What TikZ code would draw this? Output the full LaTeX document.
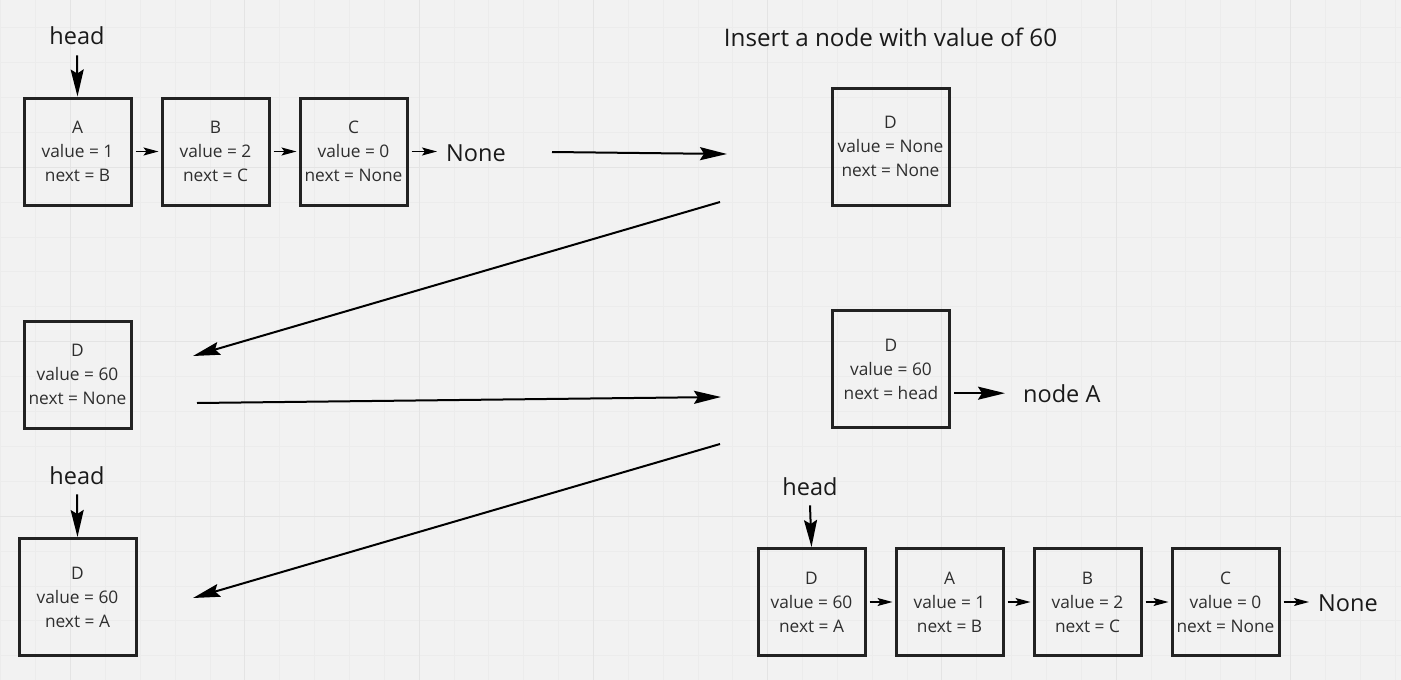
\documentclass[tikz,border=0pt]{standalone}
\usepackage{fontspec}
\newfontfamily\osfont{Open Sans}
\usetikzlibrary{arrows.meta}
\definecolor{bgcol}{HTML}{F2F2F2}
\definecolor{minorcol}{HTML}{ECECEC}
\definecolor{majorcol}{HTML}{E4E4E4}
\definecolor{boxcol}{HTML}{222222}
\definecolor{txtcol}{HTML}{2E2E2E}
\definecolor{lblcol}{HTML}{1A1A1A}
\tikzset{
  gridminor/.style={draw=minorcol, line width=0.6pt},
  gridmajor/.style={draw=majorcol, line width=1pt},
  listbox/.style={draw=boxcol, line width=3pt, minimum width=107pt, minimum height=107pt,
    inner sep=0pt, align=center, text=txtcol, font=\osfont\fontsize{17.3}{24}\selectfont},
  bigbox/.style={listbox, minimum width=117pt, minimum height=117pt},
  lbl/.style={inner sep=0pt, text=lblcol, font=\osfont\fontsize{23.5}{28}\selectfont},
  bigarrow/.style={draw=black, line width=2pt, -{Stealth[length=27pt, width=13pt, inset=4pt]}},
  smallarrow/.style={draw=black, line width=1.3pt, -{Stealth[length=15pt, width=8pt, inset=3pt]}}
}
\begin{document}
\begin{tikzpicture}[x=1pt,y=-1pt]
\useasboundingbox (0,0) rectangle (1401,680);
\fill[bgcol] (0,0) rectangle (1401,680);
% grid
\foreach \i in {-2,...,38} {\draw[gridminor] ({70.5+34.85*\i},0) -- ({70.5+34.85*\i},680);}
\foreach \j in {-4,...,14} {\draw[gridminor] (0,{167+34.9*\j}) -- (1401,{167+34.9*\j});}
\foreach \i in {0,...,7} {\draw[gridmajor] ({70.5+174.25*\i},0) -- ({70.5+174.25*\i},680);}
\foreach \j in {0,...,2} {\draw[gridmajor] (0,{167+174.5*\j}) -- (1401,{167+174.5*\j});}

% ---- top-left list
\node[listbox] (A1) at (77.5,151.5) {A\\value = 1\\next = B};
\node[listbox] (B1) at (215.5,151.5) {B\\value = 2\\next = C};
\node[listbox] (C1) at (353.5,151.5) {C\\value = 0\\next = None};
\node[lbl, anchor=base] (head1) at (77,45) {head};
\node[lbl, anchor=base west] (none1) at (446,161) {None};
\draw[bigarrow] ([yshift=-10pt]head1.south) -- (A1.north);
\draw[smallarrow, shorten <=3pt, shorten >=2pt] (A1.east) -- (B1.west);
\draw[smallarrow, shorten <=3pt, shorten >=2pt] (B1.east) -- (C1.west);
\draw[smallarrow, shorten <=3pt, shorten >=9pt] (C1.east) -- (C1.east -| none1.west);

% ---- title and new node
\node[lbl, anchor=base, font=\osfont\fontsize{24.2}{28}\selectfont] (title) at (890.5,46) {Insert a node with value of 60};
\node[bigbox] (D1) at (890.5,146.5) {D\\value = None\\next = None};

% ---- middle
\node[listbox] (D2) at (77.5,374.5) {D\\value = 60\\next = None};
\node[bigbox] (D3) at (891,369) {D\\value = 60\\next = head};
\node[lbl, anchor=base west] (nodeA) at (1023,402) {node A};
\draw[bigarrow, shorten <=3pt, shorten >=18pt] (D3.east |- nodeA.west) -- (nodeA.west);

% ---- bottom-left
\node[bigbox] (D4) at (77.5,597) {D\\value = 60\\next = A};
\node[lbl, anchor=base] (head2) at (77,484) {head};
\draw[bigarrow] ([yshift=-10pt]head2.south) -- (D4.north);

% ---- bottom-right list
\node[listbox] (D5) at (811.5,602) {D\\value = 60\\next = A};
\node[listbox] (A5) at (949.5,602) {A\\value = 1\\next = B};
\node[listbox] (B5) at (1087.5,602) {B\\value = 2\\next = C};
\node[listbox] (C5) at (1225.5,602) {C\\value = 0\\next = None};
\node[lbl, anchor=base] (head3) at (810,495) {head};
\node[lbl, anchor=base west] (none5) at (1318,611) {None};
\draw[bigarrow] ([yshift=-10pt]head3.south) -- (D5.north);
\draw[smallarrow, shorten <=3pt, shorten >=2pt] (D5.east) -- (A5.west);
\draw[smallarrow, shorten <=3pt, shorten >=2pt] (A5.east) -- (B5.west);
\draw[smallarrow, shorten <=3pt, shorten >=2pt] (B5.east) -- (C5.west);
\draw[smallarrow, shorten <=3pt, shorten >=9pt] (C5.east) -- (C5.east -| none5.west);

% ---- process arrows
\coordinate (s1) at (552,152);
\coordinate (e1) at (727,154);
\coordinate (s2) at (720,202);
\coordinate (e2) at (193,356);
\coordinate (s3) at (197,403);
\coordinate (e3) at (721,397);
\coordinate (s4) at (720,444);
\coordinate (e4) at (193,598);
\draw[bigarrow] (s1) -- (e1);
\draw[bigarrow] (s2) -- (e2);
\draw[bigarrow] (s3) -- (e3);
\draw[bigarrow] (s4) -- (e4);
\end{tikzpicture}
\end{document}
